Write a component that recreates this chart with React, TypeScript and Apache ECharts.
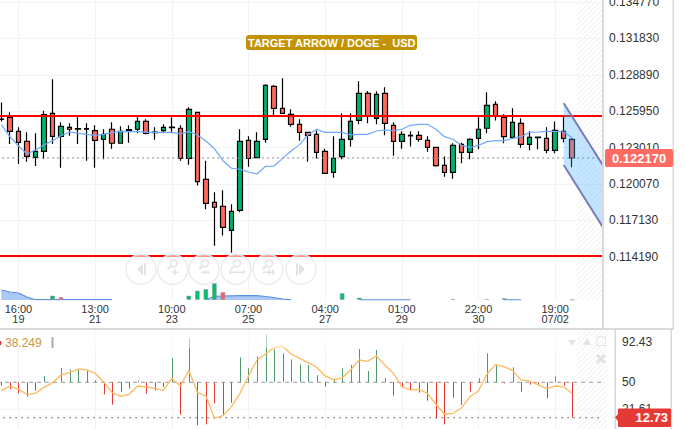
import React, { useEffect, useRef } from "react";
import * as echarts from "echarts";

const FONT = '"Liberation Sans", Arial, sans-serif';

const xLabels = ["", "", "16:00\n19", "", "", "", "", "", "", "", "", "13:00\n21", "", "", "", "", "", "", "", "", "10:00\n23", "", "", "", "", "", "", "", "", "07:00\n25", "", "", "", "", "", "", "", "", "04:00\n27", "", "", "", "", "", "", "", "", "01:00\n29", "", "", "", "", "", "", "", "", "22:00\n30", "", "", "", "", "", "", "", "", "19:00\n07/02", "", "", "", "", ""];

const priceTicks = [0.11419, 0.11713, 0.12007, 0.12301, 0.12595, 0.12889, 0.13183, 0.13477];
const rsiTicks = [21.61, 50, 92.43];

// open, close, low, high
const candles = [
  [0.12532, 0.12529, 0.12511, 0.12666],
  [0.12545, 0.12432, 0.1233, 0.12586],
  [0.12432, 0.12343, 0.12168, 0.12465],
  [0.12351, 0.1223, 0.12187, 0.12424],
  [0.12222, 0.12271, 0.12152, 0.12416],
  [0.12271, 0.12567, 0.12209, 0.12599],
  [0.12578, 0.12392, 0.1233, 0.12852],
  [0.12392, 0.12473, 0.12139, 0.12505],
  [0.12465, 0.12449, 0.12397, 0.12497],
  [0.12454, 0.12449, 0.1233, 0.12551],
  [0.12454, 0.12449, 0.12195, 0.12497],
  [0.12438, 0.1236, 0.12139, 0.12481],
  [0.12368, 0.12408, 0.12206, 0.12449],
  [0.12449, 0.12336, 0.12292, 0.12505],
  [0.12336, 0.12432, 0.12336, 0.12473],
  [0.1244, 0.12446, 0.12341, 0.12481],
  [0.12449, 0.12513, 0.12416, 0.12551],
  [0.12513, 0.12416, 0.12408, 0.12529],
  [0.12427, 0.12422, 0.12365, 0.12465],
  [0.12438, 0.12465, 0.12416, 0.12489],
  [0.12467, 0.12462, 0.12416, 0.12546],
  [0.12457, 0.12214, 0.12195, 0.12481],
  [0.12214, 0.1261, 0.12163, 0.12626],
  [0.12586, 0.12026, 0.11994, 0.12586],
  [0.12045, 0.11851, 0.11802, 0.12195],
  [0.11859, 0.11819, 0.11509, 0.1194],
  [0.11827, 0.11657, 0.1159, 0.11956],
  [0.11633, 0.11786, 0.11452, 0.11843],
  [0.11794, 0.12351, 0.11778, 0.12449],
  [0.1236, 0.12214, 0.12147, 0.12392],
  [0.1222, 0.12351, 0.12214, 0.12424],
  [0.12368, 0.12804, 0.12341, 0.12812],
  [0.12796, 0.12618, 0.12562, 0.12807],
  [0.12618, 0.12578, 0.12578, 0.1286],
  [0.1257, 0.12489, 0.1247, 0.1261],
  [0.12489, 0.12424, 0.12357, 0.12529],
  [0.12424, 0.124, 0.12187, 0.12424],
  [0.12408, 0.12263, 0.12212, 0.1244],
  [0.12271, 0.12093, 0.12093, 0.12292],
  [0.12101, 0.12214, 0.12058, 0.12392],
  [0.12228, 0.12368, 0.12206, 0.12578],
  [0.12368, 0.12513, 0.12309, 0.12578],
  [0.12521, 0.12739, 0.12489, 0.12836],
  [0.12739, 0.12554, 0.12497, 0.12758],
  [0.12537, 0.12731, 0.12489, 0.12755],
  [0.12739, 0.12497, 0.124, 0.12788],
  [0.12481, 0.12351, 0.12236, 0.12505],
  [0.12351, 0.12408, 0.12292, 0.12432],
  [0.124, 0.12395, 0.12309, 0.12432],
  [0.124, 0.12368, 0.12349, 0.12432],
  [0.1236, 0.12303, 0.12268, 0.12392],
  [0.12303, 0.12155, 0.12147, 0.12303],
  [0.12158, 0.12101, 0.12066, 0.1223],
  [0.12101, 0.12319, 0.1205, 0.12336],
  [0.12327, 0.12263, 0.12174, 0.12341],
  [0.12263, 0.12368, 0.12206, 0.12376],
  [0.12376, 0.12449, 0.12287, 0.12551],
  [0.12457, 0.12642, 0.12416, 0.12747],
  [0.1265, 0.12554, 0.12519, 0.12675],
  [0.12545, 0.12389, 0.12336, 0.1257],
  [0.12384, 0.12505, 0.12376, 0.12618],
  [0.12497, 0.12327, 0.123, 0.12537],
  [0.12327, 0.12384, 0.12279, 0.12432],
  [0.12386, 0.12381, 0.12287, 0.12386],
  [0.12376, 0.12279, 0.12255, 0.12465],
  [0.12279, 0.1244, 0.12255, 0.12511],
  [0.12432, 0.12376, 0.12343, 0.12551],
  [0.12368, 0.12217, 0.12142, 0.12376],
];

const priceAverage = [0.12484, 0.12389, 0.12314, 0.12249, 0.12282, 0.12322, 0.12357, 0.12397, 0.12427, 0.12416, 0.12408, 0.124, 0.12408, 0.12422, 0.12432, 0.1243, 0.12432, 0.12424, 0.12424, 0.12424, 0.12424, 0.12411, 0.12432, 0.12403, 0.12354, 0.12292, 0.12195, 0.12134, 0.12126, 0.12104, 0.12088, 0.1215, 0.12152, 0.12214, 0.12274, 0.12325, 0.12403, 0.12449, 0.12424, 0.12424, 0.12424, 0.12403, 0.12408, 0.12408, 0.12435, 0.12443, 0.12438, 0.12449, 0.12481, 0.12489, 0.12489, 0.12449, 0.12389, 0.12368, 0.12319, 0.12303, 0.12319, 0.12349, 0.12357, 0.12357, 0.12376, 0.12389, 0.12424, 0.12427, 0.12432, 0.12432, 0.12427, 0.12381];

const resistance = 0.12556;
const support = 0.11425;
const lastPrice = 0.12217;

const channelX = [66, 71];
const channelUpper = [0.126586, 0.12115];
const channelLower = [0.121605, 0.11614];

const n = null;
const volumeUp = [n, n, n, n, n, 1, 4.5, n, n, n, n, n, n, n, n, n, n, n, n, n, n, n, 4.5, 9.5, 11, 17, n, n, n, n, n, n, n, n, n, n, n, n, n, n, 7, n, 2.5, n, n, n, n, n, n, n, n, n, n, 1, n, n, n, 1, n, 2, n, n, n, n, n, n, n, n];
const volumeDown = [n, n, n, n, n, n, n, 3, n, n, n, n, n, n, n, n, n, n, n, n, n, n, n, n, n, n, 8, n, n, n, n, n, n, n, n, n, n, n, n, n, n, n, n, n, n, n, n, n, n, n, n, n, n, n, n, n, n, n, n, n, n, n, n, n, n, n, n, 0.5];
const volumeAverage = [10, 8, 7, 3, 0.3, 0.3, 0.3, 0.3, 0.3, 0.3, 0.3, 0.3, 0.3, 0.3, n, n, n, n, n, n, n, n, n, n, 0.3, 3.7, 4, 4.2, 4.3, 4.3, 4.3, 3.5, 2.5, 1, 0.2, n, n, n, n, n, n, n, 0.2, 0.2, 0.2, 0.2, 0.2, 0.2, 0.2, n, n, n, n, n, n, n, n, n, n, 0.2, 0.2, 0.2, n, n, n, n, n, n];

const rsiValues = [46.5, 42.6, 38.4, 34.9, 41.2, 56.7, 50.2, 65.1, 63.7, 63.7, 62.3, 52.1, 37.4, 26.5, 40.2, 43.7, 51.8, 38.1, 41.2, 45.1, 75.6, 16, 96.3, 4.8, 5.8, 27.9, 15, 28.6, 76.3, 64.7, 77, 100.1, 85, 80.5, 74.2, 68.9, 68.2, 57.4, 45.4, 53.9, 64.7, 68.2, 85, 61.9, 84, 54.6, 36, 44.7, 42.6, 39.1, 30.7, 12.1, 5.8, 33.9, 26.2, 40.2, 54.2, 80.5, 68.2, 48.9, 65.8, 40.2, 47.5, 47.5, 33.2, 56.3, 46.5, 12.73];
const rsiAverage = [41.2, 46.1, 42.6, 37.4, 38.4, 44.7, 49.6, 57.7, 60.2, 64, 63, 59.5, 50.4, 39.1, 35.3, 37.4, 46.1, 45.1, 43.7, 41.6, 54.2, 46.1, 62.6, 39.5, 35.6, 12.1, 15, 24.4, 38.4, 56.7, 73.5, 79.8, 86.5, 87.9, 79.8, 75.2, 70.7, 65.8, 56.7, 52.5, 54.9, 63, 73.5, 72.1, 77.7, 68.2, 59.5, 45.4, 41.9, 42.6, 38.4, 26.9, 16.4, 17.4, 23, 34.9, 40.9, 58.8, 68.6, 66.5, 62.3, 52.5, 51.4, 47.2, 43.3, 46.1, 45.1, 38.249];

const GRID_COLOR = "#f3f3f3";
const BORDER = "#d9d9d9";
const ICON = "#e3e3e3";
const slot = 8.52;
const gridLeft = -2.86;
const gridWidth = 71 * slot;

function hatch(x0: number, y0: number, x1: number, y1: number) {
  const out: any[] = [];
  for (let c = x0 + y0; c < x1 + y1; c += 5) {
    const ax = Math.max(x0, c - y1);
    const bx = Math.min(x1, c - y0);
    if (bx <= ax) continue;
    out.push({
      type: "line",
      silent: true,
      z: 0,
      shape: { x1: ax, y1: c - ax, x2: bx, y2: c - bx },
      style: { stroke: "#efefef", lineWidth: 1 },
    });
  }
  return out;
}

function magnifier(cx: number, cy: number, mode: string) {
  const s = { stroke: ICON, lineWidth: 1.5, fill: "none" };
  const l = (a: number, b: number, c: number, d: number, w = 1.5) => ({
    type: "line",
    silent: true,
    z: 90,
    shape: { x1: a, y1: b, x2: c, y2: d },
    style: { stroke: ICON, lineWidth: w },
  });
  const out: any[] = [
    { type: "circle", silent: true, z: 90, shape: { cx: cx + 1, cy: cy - 3, r: 3.5 }, style: s },
    l(cx - 2, cy, cx - 5, cy + 3, 2),
  ];
  if (mode === "plus") out.push(l(cx - 1, cy + 6, cx + 6, cy + 6), l(cx + 2.5, cy + 3, cx + 2.5, cy + 9));
  if (mode === "minus") out.push(l(cx - 3, cy + 6, cx + 6, cy + 6, 2));
  if (mode === "out") out.push(l(cx - 6, cy + 6, cx + 8, cy + 6), l(cx - 6, cy + 4, cx - 6, cy + 8), l(cx + 8, cy + 4, cx + 8, cy + 8));
  if (mode === "in") out.push(l(cx - 5, cy + 6, cx + 7, cy + 6), l(cx + 1, cy + 3, cx + 1, cy + 9), l(cx + 5, cy + 3, cx + 5, cy + 9));
  return out;
}

function buttons() {
  const centers = [141, 172.7, 204, 236, 268, 301];
  const cy = 269.3;
  const out: any[] = centers.map((cx) => ({
    type: "circle",
    silent: true,
    z: 89,
    shape: { cx, cy, r: 15 },
    style: { stroke: "#ececec", lineWidth: 1.5, fill: "rgba(255,255,255,0.6)" },
  }));
  out.push(
    { type: "polygon", silent: true, z: 90, shape: { points: [[137, cy], [143, cy - 6], [143, cy + 6]] }, style: { fill: ICON } },
    { type: "rect", silent: true, z: 90, shape: { x: 144, y: cy - 6, width: 2, height: 12 }, style: { fill: ICON } },
    { type: "polygon", silent: true, z: 90, shape: { points: [[305, cy], [299, cy - 6], [299, cy + 6]] }, style: { fill: ICON } },
    { type: "rect", silent: true, z: 90, shape: { x: 296, y: cy - 6, width: 2, height: 12 }, style: { fill: ICON } },
    ...magnifier(172.7, cy - 3, "plus"),
    ...magnifier(204, cy - 3, "minus"),
    ...magnifier(236, cy - 3, "out"),
    ...magnifier(268, cy - 3, "in"),
  );
  return out;
}

function rect(x: number, y: number, width: number, height: number, fill: string, z = 80, r = 0) {
  return { type: "rect", silent: true, z, shape: { x, y, width, height, r }, style: { fill } };
}

// Horizontal levels drawn through the axis scale, spanning the grid's width.
function levelSeries(xAxisIndex: number, yAxisIndex: number, value: number, z: number, style: any) {
  return {
    type: "custom",
    xAxisIndex,
    yAxisIndex,
    z,
    silent: true,
    clip: true,
    data: [[0, value]],
    encode: { x: 0, y: 1 },
    renderItem: (params: any, api: any) => {
      const y = api.coord([0, api.value(1)])[1];
      const cs = params.coordSys;
      return {
        type: "line",
        shape: { x1: cs.x, y1: y, x2: cs.x + cs.width, y2: y },
        style,
      };
    },
  };
}

export default function App() {
  const ref = useRef<HTMLDivElement>(null);
  useEffect(() => {
    document.body.style.margin = "0";
    const chart = echarts.init(ref.current!, null, { renderer: "svg" });
    const elements = [
      ...hatch(577, 0, 602, 300),
      ...hatch(577, 330, 607, 429),
      ...buttons(),
      rect(602, 0, 2, 329, BORDER),
      rect(672.5, 0, 1.5, 329, BORDER),
      rect(0, 328, 674, 2, BORDER),
      rect(614.5, 330, 1.5, 99, BORDER),
      rect(670.5, 330, 1.5, 99, BORDER),
      rect(0, 330, 577, 18, "rgba(255,255,255,0.55)", 70),
      rect(0, 341, 1.3, 4, "#e53935"),
      rect(51.5, 337, 2, 11, "#aaaaaa"),
      {
        type: "text",
        silent: true,
        z: 80,
        x: 5,
        y: 343,
        style: { text: "38.249", fill: "#c9973f", font: `12px ${FONT}`, verticalAlign: "middle" },
      },
      rect(246, 35, 171, 15, "#c29200", 80, 3),
      {
        type: "text",
        silent: true,
        z: 81,
        x: 248,
        y: 42.5,
        style: { text: "TARGET ARROW / DOGE -  USD", fill: "#ffffff", font: `bold 11px ${FONT}`, verticalAlign: "middle" },
      },
      rect(605, 149, 68, 18, "#ff6b60", 80, 2),
      {
        type: "text",
        silent: true,
        z: 81,
        x: 639,
        y: 158,
        style: { text: "0.122170", fill: "#ffffff", font: `bold 13px ${FONT}`, align: "center", verticalAlign: "middle" },
      },
      rect(618, 408.5, 53, 18.5, "#e53935", 80, 1),
      { type: "polygon", silent: true, z: 80, shape: { points: [[618, 414], [615, 417.5], [618, 421]] }, style: { fill: "#e53935" } },
      {
        type: "text",
        silent: true,
        z: 81,
        x: 668,
        y: 417.5,
        style: { text: "12.73", fill: "#ffffff", font: `bold 13px ${FONT}`, align: "right", verticalAlign: "middle" },
      },
      { type: "polygon", silent: true, z: 80, shape: { points: [[568, 340], [576, 340], [572, 346]] }, style: { fill: ICON } },
      { type: "polygon", silent: true, z: 80, shape: { points: [[583, 345], [591, 345], [587, 338]] }, style: { fill: ICON } },
      { type: "rect", silent: true, z: 80, shape: { x: 597, y: 337, width: 8.5, height: 8.5 }, style: { fill: "none", stroke: ICON, lineWidth: 1 } },
      { type: "line", silent: true, z: 80, shape: { x1: 597, y1: 355, x2: 605, y2: 363 }, style: { stroke: ICON, lineWidth: 3 } },
      { type: "line", silent: true, z: 80, shape: { x1: 605, y1: 355, x2: 597, y2: 363 }, style: { stroke: ICON, lineWidth: 3 } },
    ];

    const hiddenAxis = { show: false };
    const vSplit = {
      show: true,
      alignWithLabel: true,
      interval: (_: number, v: string) => v !== "",
      lineStyle: { color: GRID_COLOR, width: 1 },
    };

    chart.setOption({
      animation: false,
      backgroundColor: "#ffffff",
      textStyle: { fontFamily: FONT },
      graphic: { elements },
      grid: [
        { left: gridLeft, top: 0, width: gridWidth, height: 300, outerBoundsMode: "none", containLabel: false },
        { left: gridLeft, top: 330, width: gridWidth, height: 99, outerBoundsMode: "none", containLabel: false },
      ],
      xAxis: [
        {
          type: "category",
          gridIndex: 0,
          data: xLabels,
          axisLine: { show: false },
          axisTick: { show: false, alignWithLabel: true },
          splitLine: vSplit,
          axisLabel: {
            show: true,
            interval: (_: number, v: string) => v !== "",
            color: "#333333",
            fontSize: 11,
            lineHeight: 10,
            margin: 4,
            fontFamily: FONT,
          },
        },
        {
          type: "category",
          gridIndex: 1,
          data: xLabels,
          axisLine: { show: false },
          axisTick: { show: false, alignWithLabel: true },
          splitLine: vSplit,
          axisLabel: { show: false },
        },
      ],
      yAxis: [
        {
          type: "value",
          gridIndex: 0,
          position: "right",
          min: 0.1107,
          max: 0.13493,
          axisLine: { show: false },
          axisTick: { show: false, customValues: priceTicks },
          splitLine: { show: true, lineStyle: { color: GRID_COLOR, width: 1 } },
          axisLabel: {
            customValues: priceTicks,
            color: "#333333",
            fontSize: 12,
            margin: 7,
            padding: [0, 0, 3, 0],
            fontFamily: FONT,
            formatter: (v: number) => v.toFixed(6),
          },
        },
        { type: "value", gridIndex: 0, min: 0, max: 300, ...hiddenAxis },
        {
          type: "value",
          gridIndex: 1,
          position: "right",
          min: 0.9,
          max: 105,
          axisLine: { show: false },
          axisTick: { show: false, customValues: rsiTicks },
          splitLine: { show: false },
          axisLabel: {
            customValues: rsiTicks,
            color: "#333333",
            fontSize: 12,
            margin: 20,
            padding: [0, 0, 3, 0],
            fontFamily: FONT,
            formatter: (v: number) => String(v),
          },
        },
      ],
      series: [
        {
          type: "line",
          xAxisIndex: 0,
          yAxisIndex: 1,
          data: volumeAverage,
          z: 1,
          symbol: "none",
          lineStyle: { color: "#5b8fe8", width: 1.2 },
          areaStyle: { color: "#a9c8f5", opacity: 1 },
        },
        {
          type: "bar",
          xAxisIndex: 0,
          yAxisIndex: 1,
          data: volumeUp,
          z: 2,
          barWidth: 5,
          barGap: "-100%",
          itemStyle: { color: "#06bd6e", borderColor: "rgba(150,150,150,0.45)", borderWidth: 1 },
        },
        {
          type: "bar",
          xAxisIndex: 0,
          yAxisIndex: 1,
          data: volumeDown,
          z: 2,
          barWidth: 5,
          barGap: "-100%",
          itemStyle: { color: "#f0646a", borderColor: "rgba(150,150,150,0.45)", borderWidth: 1 },
        },
        {
          type: "candlestick",
          xAxisIndex: 0,
          yAxisIndex: 0,
          data: candles,
          z: 3,
          barWidth: 5,
          itemStyle: {
            color: "#00b36b",
            color0: "#ff6a5c",
            borderColor: "#000000",
            borderColor0: "#000000",
            borderWidth: 1.2,
          },
        },
        {
          type: "line",
          xAxisIndex: 0,
          yAxisIndex: 0,
          data: priceAverage,
          z: 4,
          symbol: "none",
          lineStyle: { color: "#6fa9ff", width: 1.2 },
        },
        levelSeries(0, 0, resistance, 5, { stroke: "#ff0000", lineWidth: 2 }),
        levelSeries(0, 0, support, 5, { stroke: "#ff0000", lineWidth: 2 }),
        levelSeries(0, 0, lastPrice, 5, { stroke: "#888888", lineWidth: 1.2, lineDash: [2, 3] }),
        {
          type: "custom",
          xAxisIndex: 0,
          yAxisIndex: 0,
          z: 6,
          clip: true,
          data: [[channelX[0], channelUpper[0]]],
          silent: true,
          renderItem: (_: any, api: any) => {
            const a = api.coord([channelX[0], channelUpper[0]]);
            const b = api.coord([channelX[1], channelUpper[1]]);
            const c = api.coord([channelX[1], channelLower[1]]);
            const d = api.coord([channelX[0], channelLower[0]]);
            const stroke = { stroke: "#7b7bb8", lineWidth: 2 };
            return {
              type: "group",
              children: [
                { type: "polygon", shape: { points: [a, b, c, d] }, style: { fill: "rgba(60,170,255,0.3)" } },
                { type: "line", shape: { x1: a[0], y1: a[1], x2: b[0], y2: b[1] }, style: stroke },
                { type: "line", shape: { x1: d[0], y1: d[1], x2: c[0], y2: c[1] }, style: stroke },
              ],
            };
          },
        },
        levelSeries(1, 2, rsiTicks[0], 1, { stroke: GRID_COLOR, lineWidth: 1 }),
        levelSeries(1, 2, rsiTicks[1], 1, { stroke: "#999999", lineWidth: 1, lineDash: [4, 4] }),
        levelSeries(1, 2, 12.73, 1, { stroke: "#777777", lineWidth: 1.2, lineDash: [2, 4] }),
        {
          type: "custom",
          xAxisIndex: 1,
          yAxisIndex: 2,
          z: 2,
          clip: true,
          silent: true,
          data: rsiValues.map((v, i) => [i, v]),
          encode: { x: 0, y: 1 },
          renderItem: (_: any, api: any) => {
            const v = api.value(1);
            const p0 = api.coord([api.value(0), 50]);
            const p1 = api.coord([api.value(0), v]);
            const x = Math.round(p0[0]) + 0.5;
            return {
              type: "line",
              shape: { x1: x, y1: p0[1], x2: x, y2: p1[1] },
              style: { stroke: v >= 50 ? "#4f9a6f" : "#e53935", lineWidth: 1 },
            };
          },
        },
        {
          type: "line",
          xAxisIndex: 1,
          yAxisIndex: 2,
          data: rsiAverage,
          z: 3,
          symbol: "none",
          lineStyle: { color: "#ffb95e", width: 1.3 },
        },
      ],
    });
    return () => chart.dispose();
  }, []);
  return <div ref={ref} style={{ position: "fixed", left: 0, top: 0, width: 685, height: 429 }} />;
}
